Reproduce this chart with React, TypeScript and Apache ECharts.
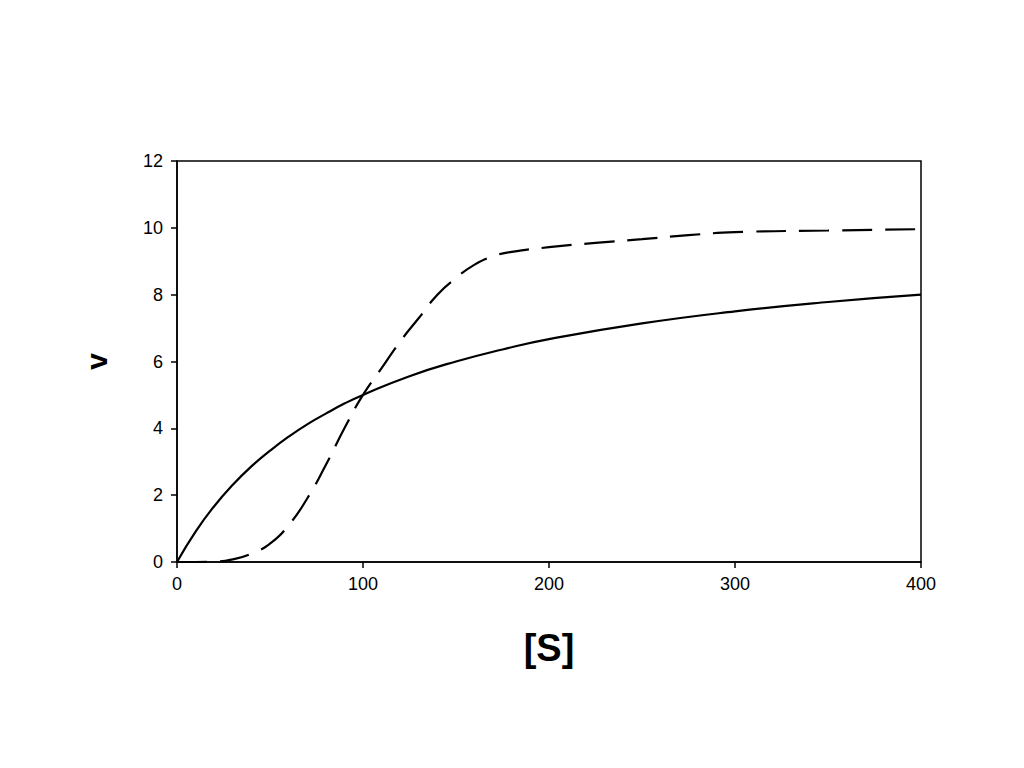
import React, { useEffect, useRef } from "react";
import * as echarts from "echarts";

const xTicks = [0, 100, 200, 300, 400];
const yTicks = [0, 2, 4, 6, 8, 10, 12];

const solidS = [0, 10, 20, 30, 40, 50, 60, 70, 80, 90, 100, 125, 150, 175, 200, 250, 300, 350, 400];
const solidV = [0, 0.91, 1.67, 2.31, 2.86, 3.33, 3.75, 4.12, 4.44, 4.74, 5.0, 5.56, 6.0, 6.36, 6.67, 7.14, 7.5, 7.78, 8.0];

const dashS = [0, 10, 20, 30, 40, 50, 60, 70, 80, 90, 100, 110, 120, 130, 140, 150, 160, 170, 180, 200, 225, 250, 275, 300, 350, 400];
const dashV = [0, 0, 0.01, 0.08, 0.25, 0.55, 1.1, 1.9, 2.9, 4.0, 5.0, 5.8, 6.6, 7.3, 8.0, 8.5, 8.9, 9.15, 9.28, 9.42, 9.55, 9.66, 9.78, 9.87, 9.92, 9.96];

export default function App() {
  const ref = useRef<HTMLDivElement>(null);
  useEffect(() => {
    const chart = echarts.init(ref.current!, null, { renderer: "svg" });
    const font = "Liberation Sans, Arial, sans-serif";
    const narrow = "Liberation Sans Narrow, Arial Narrow, Liberation Sans, sans-serif";
    chart.setOption({
      animation: false,
      backgroundColor: "#ffffff",
      grid: { left: 177, right: 103, top: 161, bottom: 206, show: true, borderColor: "#000", borderWidth: 1.5, backgroundColor: "transparent" },
      xAxis: {
        type: "value",
        min: xTicks[0],
        max: xTicks[xTicks.length - 1],
        interval: 100,
        name: "[S]",
        nameLocation: "middle",
        nameGap: 67,
        nameTextStyle: { fontFamily: narrow, fontSize: 38, fontWeight: "bold", color: "#000", verticalAlign: "top" },
        axisLine: { show: true, lineStyle: { color: "#000", width: 1.5 } },
        axisTick: { show: true, length: 6, lineStyle: { color: "#000", width: 1.5 } },
        axisLabel: { fontFamily: narrow, fontSize: 18, color: "#000", margin: 13 },
        splitLine: { show: false },
      },
      yAxis: {
        type: "value",
        min: yTicks[0],
        max: yTicks[yTicks.length - 1],
        interval: 2,
        name: "v",
        nameLocation: "middle",
        nameGap: 66,
        nameTextStyle: { fontFamily: font, fontSize: 30, fontWeight: "bold", color: "#000" },
        axisLine: { show: true, lineStyle: { color: "#000", width: 1.5 } },
        axisTick: { show: true, length: 6, lineStyle: { color: "#000", width: 1.5 } },
        axisLabel: { fontFamily: font, fontSize: 18, color: "#000", margin: 14 },
        splitLine: { show: false },
      },
      series: [
        {
          type: "line",
          data: solidS.map((s, i) => [s, solidV[i]]),
          smooth: true,
          showSymbol: false,
          lineStyle: { color: "#000", width: 2.2 },
        },
        {
          type: "line",
          data: dashS.map((s, i) => [s, dashV[i]]),
          smooth: true,
          showSymbol: false,
          lineStyle: { color: "#000", width: 2.2, type: [30, 13] },
        },
      ],
    });
    return () => chart.dispose();
  }, []);
  return <div ref={ref} style={{ position: "fixed", left: 0, top: 0, width: 1024, height: 768 }} />;
}
